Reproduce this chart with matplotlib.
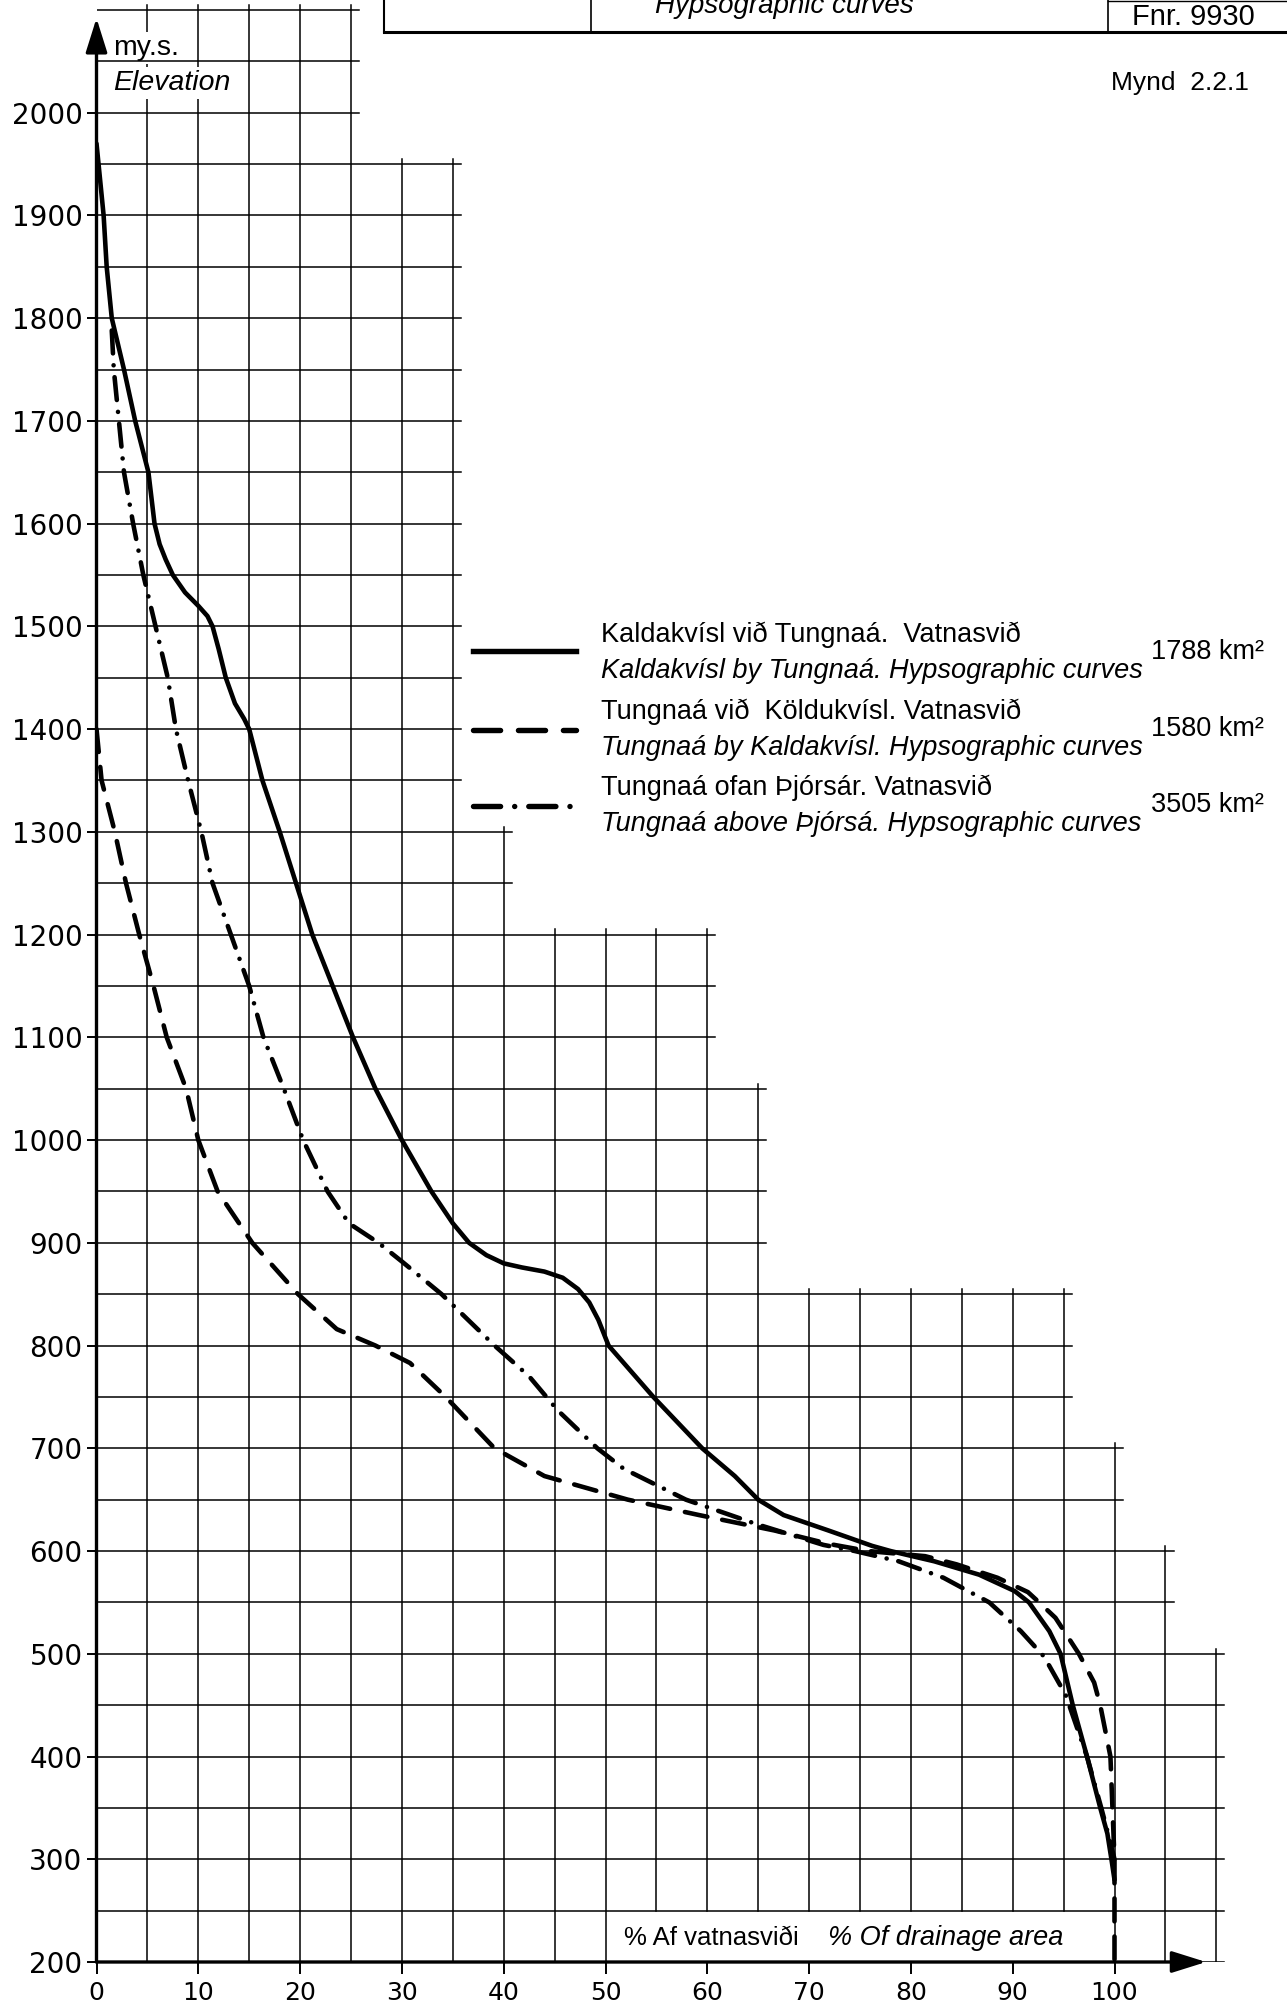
import matplotlib
matplotlib.use('Agg')
import matplotlib.pyplot as plt
from matplotlib.lines import Line2D

# Kaldakvísl við Tungnaá, 1788 km2 (heil lína)
kald_pct = [0, 0.2, 0.7, 1.0, 1.5, 2.7, 3.8, 5.1, 5.4, 5.7, 6.2, 6.8, 7.5, 8.7, 10.0, 10.9, 11.4,
            12.0, 12.7, 13.6, 14.5, 15.0, 16.3, 18.0, 19.6, 21.2, 23.2, 25.2, 27.4, 30.0, 32.9,
            35.0, 36.6, 38.3, 40.0, 41.8, 44.0, 45.8, 47.3, 48.4, 49.3, 50.3, 54.7, 59.5, 62.7,
            65.0, 67.5, 71.9, 76.2, 78.0, 82.3, 86.7, 90.2, 91.6, 93.6, 94.7, 95.9, 97.3, 98.6,
            99.3, 99.7, 100]
kald_elev = [1970, 1950, 1900, 1850, 1800, 1750, 1700, 1650, 1625, 1600, 1580, 1565, 1550, 1533,
             1520, 1510, 1500, 1478, 1450, 1425, 1410, 1400, 1350, 1300, 1250, 1200, 1150, 1100,
             1050, 1000, 950, 919, 900, 888, 880, 876, 872, 866, 855, 842, 825, 800, 750, 700, 673,
             650, 635, 620, 605, 600, 590, 577, 561, 550, 522, 500, 450, 400, 350, 325, 300, 280]

# Tungnaá við Köldukvísl, 1580 km2 (strikalína)
koldu_pct = [0, 0.5, 1.8, 2.9, 4.2, 5.6, 6.9, 8.8, 10.0, 11.9, 15.3, 19.8, 23.6, 27.4,
             30.8, 34.3, 39.1, 44.0, 52.2, 59.2, 66.6, 71.9, 75.8, 81.4, 84.5, 88.5,
             91.5, 92.6, 94.2, 96.5, 98.0, 98.6, 99.6, 99.8, 100, 100]
koldu_elev = [1400, 1350, 1300, 1250, 1200, 1150, 1100, 1050, 1000, 950, 900, 850, 816, 800,
              783, 750, 700, 673, 650, 635, 620, 607, 600, 595, 587, 574,
              560, 550, 535, 500, 472, 450, 400, 350, 300, 200]

# Tungnaá ofan Þjórsár, 3505 km2 (strik-punktalína)
thjors_pct = [1.5, 1.7, 2.2, 2.7, 3.6, 4.6, 5.8, 7.0, 7.8, 9.0, 10.3, 11.4, 13.2, 15.0,
              16.4, 18.4, 20.3, 22.7, 24.8, 27.7, 30.1, 33.9, 39.1, 42.5, 45.3, 49.2,
              51.8, 57.9, 64.9, 71.4, 74.5, 78.8, 83.2, 87.7, 90.8, 93.1, 95.2, 97.3,
              98.7, 99.5, 100]
thjors_elev = [1788, 1750, 1700, 1650, 1600, 1550, 1500, 1450, 1400, 1350, 1300, 1250, 1200, 1150,
               1100, 1050, 1000, 950, 919, 900, 881, 850, 800, 770, 737, 700,
               680, 650, 626, 606, 600, 590, 574, 550, 522, 497, 460, 400,
               350, 320, 300]

x_ticks = list(range(0, 101, 10))
y_ticks = list(range(200, 2001, 100))

# rúðunetið er í tröppum: (neðri hæð, efri hæð, síðasti dálkur í %)
grid_steps = [(1950, 2100, 25), (1300, 1950, 35), (1200, 1300, 40), (1050, 1200, 60),
              (850, 1050, 65), (700, 850, 95), (600, 700, 100), (500, 600, 105), (200, 500, 110)]

W, H = 1287, 2005
x0, sx = 96.5, 10.18      # px fyrir 0 %, px á hvert %
y200, sy = 1962, 1.0274   # px fyrir 200 m, px á hvern metra
fig = plt.figure(figsize=(W / 100, H / 100), dpi=100)
ax = fig.add_axes([x0 / W, (H - y200) / H, 116 * sx / W, 1910 * sy / H])
ax.set_xlim(0, 116)
ax.set_ylim(200, 2110)
for s in ax.spines.values():
    s.set_visible(False)

txt = ['Liberation Sans', 'DejaVu Sans']

# rúðunet
for h in range(200, 2101, 50):
    xmax = max(s[2] for s in grid_steps if s[0] <= h <= s[1])
    ax.plot([0, xmax + 0.8], [h, h], color='k', lw=1.1, zorder=3)
for x in range(5, 111, 5):
    top = max(s[1] for s in grid_steps if s[2] >= x)
    bottom = 250 if 55 <= x <= 95 else 200
    ax.plot([x, x], [bottom, top + 5], color='k', lw=1.1, zorder=1)

# ásar með örvum
arrow = dict(arrowstyle='-|>,head_length=0.7,head_width=0.22', mutation_scale=30,
             lw=2.4, color='k', shrinkA=0, shrinkB=0)
ax.annotate('', xy=(0, 2092), xytext=(0, 200), annotation_clip=False, arrowprops=arrow, zorder=4)
ax.annotate('', xy=(109.0, 200), xytext=(0, 200), annotation_clip=False, arrowprops=arrow, zorder=4)

ax.set_xticks(x_ticks)
ax.set_yticks(y_ticks)
ax.tick_params(axis='x', length=8.5, width=1.4, labelsize=18, pad=5, color='k')
ax.tick_params(axis='y', length=7, width=1.4, labelsize=20, pad=3, color='k')

# ferlarnir
lw = 3.3
ax.plot(kald_pct, kald_elev, color='k', lw=lw, solid_capstyle='round', solid_joinstyle='round', zorder=5)
ax.plot(koldu_pct, koldu_elev, color='k', lw=lw, dashes=(5, 3.3), dash_capstyle='round', zorder=5)
ax.plot(thjors_pct, thjors_elev, color='k', lw=lw, dashes=(5, 2.6, 0.01, 2.6),
        dash_capstyle='round', zorder=5)

# skýringar
leg_x = [37.0, 47.1]
ax.add_line(Line2D(leg_x, [1476, 1476], color='k', lw=lw + 0.6))
ax.add_line(Line2D(leg_x, [1399, 1399], color='k', lw=lw + 0.6, dashes=(5, 3.3), dash_capstyle='round'))
ax.add_line(Line2D(leg_x, [1325, 1325], color='k', lw=lw + 0.6, dashes=(5, 2.6, 0.01, 2.6),
                   dash_capstyle='round'))

legend_rows = [
    ('Kaldakvísl við Tungnaá.  Vatnasvið', 'Kaldakvísl by Tungnaá. Hypsographic curves', '1788 km²', 1492),
    ('Tungnaá við  Köldukvísl. Vatnasvið', 'Tungnaá by Kaldakvísl. Hypsographic curves', '1580 km²', 1417),
    ('Tungnaá ofan Þjórsár. Vatnasvið', 'Tungnaá above Þjórsá. Hypsographic curves', '3505 km²', 1343),
]
for is_txt, en_txt, area, y in legend_rows:
    ax.text(49.6, y, is_txt, family=txt, fontsize=19.5, va='center', ha='left')
    ax.text(49.6, y - 35, en_txt, family=txt, fontsize=19.5, style='italic', va='center', ha='left')
    ax.text(103.6, y - 17, area, family=txt, fontsize=19.5, va='center', ha='left', clip_on=False)

# ásaheiti
ax.text(1.6, 2063, 'my.s.', family=txt, fontsize=20.5, va='center', ha='left', zorder=2,
        bbox=dict(facecolor='white', edgecolor='none', pad=2))
ax.text(1.6, 2029, 'Elevation', family=txt, fontsize=20.5, style='italic', va='center', ha='left',
        zorder=2, bbox=dict(facecolor='white', edgecolor='none', pad=2))
ax.text(51.8, 223, '% Af vatnasviði', family=txt, fontsize=18.5, va='center', ha='left')
ax.text(71.9, 223, '% Of drainage area', family=txt, fontsize=19.5, style='italic', va='center', ha='left')

# titilreitur efst
for xs, ys, w in [([384, W], [32, 32], 2.2), ([384, 384], [0, 32], 1.5), ([591, 591], [0, 32], 1.2),
                  ([1108, 1108], [0, 32], 1.2), ([1108, W], [1, 1], 1.0)]:
    fig.add_artist(Line2D([v / W for v in xs], [1 - v / H for v in ys], color='k', lw=w))
fig.text(784 / W, 1 - 13 / H, 'Hypsographic curves', family=txt, fontsize=20, style='italic',
         ha='center', va='baseline')
fig.text(1193 / W, 1 - 17 / H, 'Fnr. 9930', family=txt, fontsize=21, ha='center', va='center')
fig.text(1180 / W, 1 - 83 / H, 'Mynd  2.2.1', family=txt, fontsize=19, ha='center', va='center')

fig.savefig('out.png', dpi=100, facecolor='white')
